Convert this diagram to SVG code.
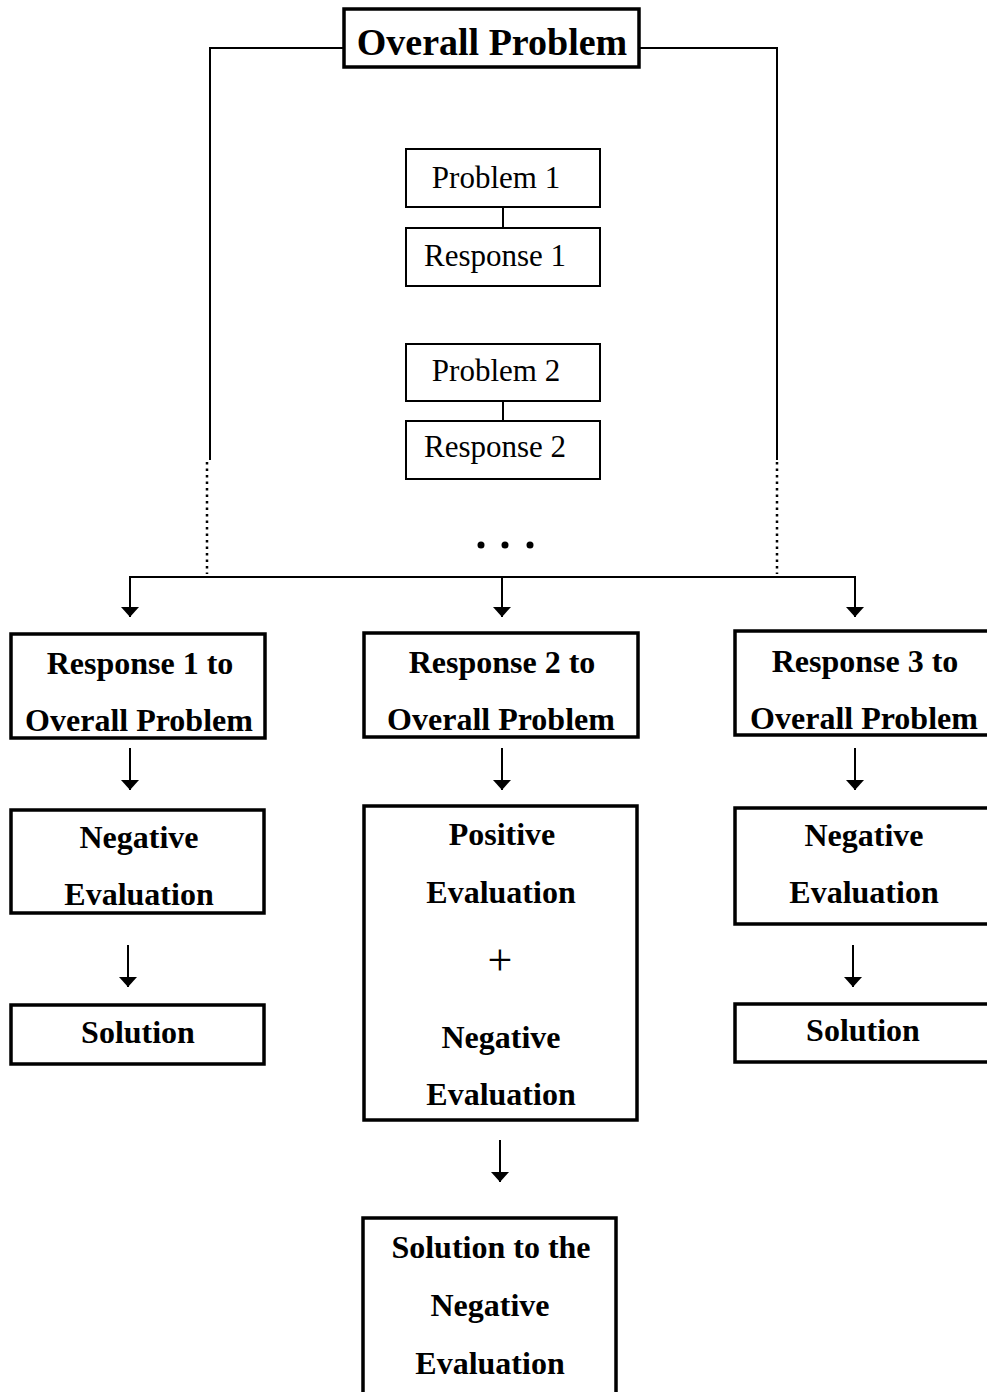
<svg xmlns="http://www.w3.org/2000/svg" width="987" height="1392" viewBox="0 0 987 1392">
<style>
.thick{fill:#fff;stroke:#000;stroke-width:3.5}
.thin{fill:#fff;stroke:#000;stroke-width:2}
.b{font-family:"Liberation Serif",serif;font-weight:bold;font-size:32px;text-anchor:middle;fill:#000}
.r{font-family:"Liberation Serif",serif;font-size:31px;text-anchor:middle;fill:#000}
.ln{fill:none;stroke:#000;stroke-width:2}
.dot{fill:none;stroke:#000;stroke-width:2.5;stroke-dasharray:2.5 4}
</style>
<defs>
<marker id="ah" viewBox="0 0 10 18" refX="10" refY="9" markerWidth="10" markerHeight="18" markerUnits="userSpaceOnUse" orient="auto">
<path d="M0,0 L10,9 L0,18 Z" fill="#000"/>
</marker>
</defs>
<rect width="987" height="1392" fill="#fff"/>
<g id="connectors">
<path class="ln" d="M344,48 H210 V460"/>
<path class="ln" d="M639,48 H777 V460"/>
<line class="dot" x1="207" y1="462" x2="207" y2="574"/>
<line class="dot" x1="777" y1="462" x2="777" y2="574"/>
<line class="ln" x1="503" y1="207" x2="503" y2="228"/>
<line class="ln" x1="503" y1="401" x2="503" y2="421"/>
<path class="ln" d="M130,617 V577 H855 V617" marker-end="url(#ah)"/>
<line class="ln" x1="130" y1="580" x2="130" y2="617" marker-end="url(#ah)"/>
<line class="ln" x1="502" y1="578" x2="502" y2="617" marker-end="url(#ah)"/>
<line class="ln" x1="130" y1="748" x2="130" y2="790" marker-end="url(#ah)"/>
<line class="ln" x1="128" y1="945" x2="128" y2="987" marker-end="url(#ah)"/>
<line class="ln" x1="502" y1="748" x2="502" y2="790" marker-end="url(#ah)"/>
<line class="ln" x1="500" y1="1140" x2="500" y2="1182" marker-end="url(#ah)"/>
<line class="ln" x1="855" y1="748" x2="855" y2="790" marker-end="url(#ah)"/>
<line class="ln" x1="853" y1="945" x2="853" y2="987" marker-end="url(#ah)"/>
<circle cx="481" cy="545" r="3.5"/>
<circle cx="505" cy="545" r="3.5"/>
<circle cx="530" cy="545" r="3.5"/>
</g>
<g id="overall"><rect class="thick" x="344" y="9" width="295" height="58"/><text class="b" x="492" y="55" style="font-size:38px">Overall Problem</text></g>
<g id="p1"><rect class="thin" x="406" y="149" width="194" height="58"/><text class="r" x="496" y="188">Problem 1</text></g>
<g id="r1"><rect class="thin" x="406" y="228" width="194" height="58"/><text class="r" x="495" y="266">Response 1</text></g>
<g id="p2"><rect class="thin" x="406" y="344" width="194" height="57"/><text class="r" x="496" y="381">Problem 2</text></g>
<g id="r2"><rect class="thin" x="406" y="421" width="194" height="58"/><text class="r" x="495" y="457">Response 2</text></g>
<g id="resp1"><rect class="thick" x="11" y="634" width="254" height="104"/><text class="b" x="140" y="674">Response 1 to</text><text class="b" x="139" y="731">Overall Problem</text></g>
<g id="resp2"><rect class="thick" x="364" y="633" width="274" height="104"/><text class="b" x="502" y="673">Response 2 to</text><text class="b" x="501" y="730">Overall Problem</text></g>
<g id="resp3"><rect class="thick" x="735" y="631" width="260" height="104"/><text class="b" x="865" y="672">Response 3 to</text><text class="b" x="864" y="729">Overall Problem</text></g>
<g id="neg1"><rect class="thick" x="11" y="810" width="253" height="103"/><text class="b" x="139" y="848">Negative</text><text class="b" x="139" y="905">Evaluation</text></g>
<g id="posneg"><rect class="thick" x="364" y="806" width="273" height="314"/><text class="b" x="502" y="845">Positive</text><text class="b" x="501" y="903">Evaluation</text><text class="r" x="500" y="975" style="font-size:44px">+</text><text class="b" x="501" y="1048">Negative</text><text class="b" x="501" y="1105">Evaluation</text></g>
<g id="neg3"><rect class="thick" x="735" y="808" width="260" height="116"/><text class="b" x="864" y="846">Negative</text><text class="b" x="864" y="903">Evaluation</text></g>
<g id="sol1"><rect class="thick" x="11" y="1005" width="253" height="59"/><text class="b" x="138" y="1043">Solution</text></g>
<g id="sol3"><rect class="thick" x="735" y="1004" width="260" height="58"/><text class="b" x="863" y="1041">Solution</text></g>
<g id="sol2"><rect class="thick" x="363" y="1218" width="253" height="180"/><text class="b" x="491" y="1258">Solution to the</text><text class="b" x="490" y="1316">Negative</text><text class="b" x="490" y="1374">Evaluation</text></g>
</svg>
